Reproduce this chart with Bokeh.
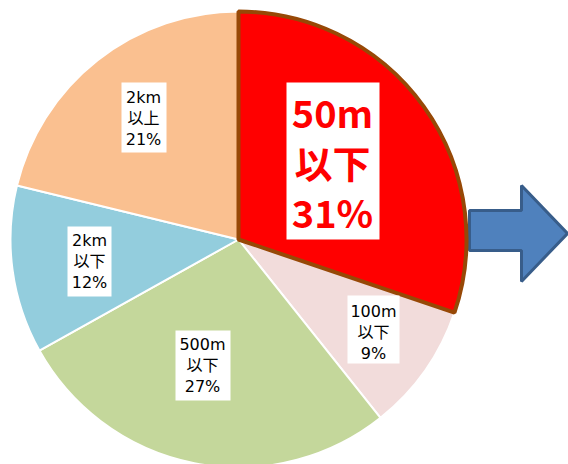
import numpy as np
from bokeh.plotting import figure
from bokeh.models import Range1d, ColumnDataSource
from bokeh.core.properties import value
from bokeh.embed import file_html
from bokeh.resources import INLINE

# ---- data ----
categories = ["50m以下", "100m以下", "500m以下", "2km以下", "2km以上"]
shares = [30.2, 9.1, 27.6, 11.9, 21.2]          # slice sizes
label_texts = ["50m\n以下\n31%", "100m\n以下\n9%", "500m\n以下\n27%", "2km\n以下\n12%", "2km\n以上\n21%"]
colors = ["#FF0000", "#F2DCDB", "#C4D79B", "#93CDDD", "#FAC090"]

# ---- layout (reference pixel coords, y down) ----
H = 464
cx, cy, R = 238, 239, 228
label_x = [332, 373, 202, 89, 143]
label_y = [161, 332, 365, 261, 118]
line_gap = [50, 21, 21, 21, 21]
box_l = [286, 347, 175, 67, 121]
box_r = [379, 399, 230, 111, 166]
box_t = [82, 295, 330, 226, 82]
box_b = [239, 363, 400, 296, 152]
arrow_x = [469, 521, 521, 567, 521, 521, 469]
arrow_y = [210, 210, 185, 233, 281, 250, 250]

p = figure(width=568, height=464, output_backend="svg", toolbar_location=None,
           x_range=Range1d(0, 568), y_range=Range1d(0, H),
           min_border=0, min_border_left=0, min_border_right=0,
           min_border_top=0, min_border_bottom=0)
p.axis.visible = False
p.grid.visible = False
p.outline_line_color = None
p.background_fill_color = "white"
p.border_fill_color = "white"

frac = np.array(shares) / np.sum(shares)
cum = np.concatenate([[0], np.cumsum(frac)])
start = np.pi / 2 - 2 * np.pi * cum[:-1]
end = np.pi / 2 - 2 * np.pi * cum[1:]

src = ColumnDataSource(dict(cat=categories, start=start, end=end, color=colors,
                            x=[cx] * 5, y=[H - cy] * 5))

# arrow
p.patch(arrow_x, [H - y for y in arrow_y], fill_color="#4F81BD",
        line_color="#385D8A", line_width=3)

# other slices with white separators
others = ColumnDataSource({k: v[1:] for k, v in src.data.items()})
p.wedge(x="x", y="y", radius=R, start_angle="start", end_angle="end", direction="clock",
        fill_color="color", line_color="white", line_width=2, source=others)
# highlighted slice
first = ColumnDataSource({k: v[:1] for k, v in src.data.items()})
p.wedge(x="x", y="y", radius=R, start_angle="start", end_angle="end", direction="clock",
        fill_color="color", line_color="#974806", line_width=4, source=first)

# label boxes
p.quad(left=box_l, right=box_r, top=[H - t for t in box_t], bottom=[H - b for b in box_b],
       fill_color="white", line_color=None)

# labels, one text per line
big = dict(xs=[], ys=[], ts=[])
small = dict(xs=[], ys=[], ts=[])
for i, t in enumerate(label_texts):
    lines = t.split("\n")
    n = len(lines)
    tgt = big if i == 0 else small
    for j, ln in enumerate(lines):
        tgt["xs"].append(label_x[i])
        tgt["ys"].append(H - (label_y[i] + (j - (n - 1) / 2) * line_gap[i]))
        tgt["ts"].append(ln)

p.text(x=big["xs"], y=big["ys"], text=big["ts"],
       text_font=value("Noto Sans CJK JP"), text_font_style="bold",
       text_font_size="38px", text_color="#FF0000", text_align="center",
       text_baseline="middle")
p.text(x=small["xs"], y=small["ys"], text=small["ts"],
       text_font=value("DejaVu Sans, Noto Sans CJK JP"), text_font_size="16px",
       text_color="black", text_align="center", text_baseline="middle")

open("out.html", "w").write(file_html(p, INLINE))
